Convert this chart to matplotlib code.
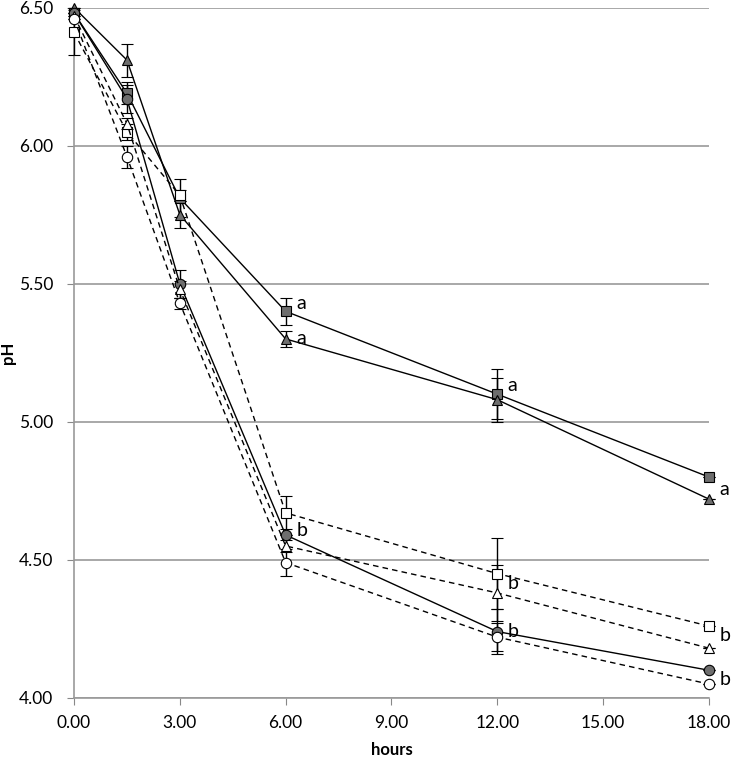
import numpy as np
import matplotlib.pyplot as plt

plt.rcParams['font.family'] = ['Lato', 'DejaVu Sans']

hours = [0, 1.5, 3, 6, 12, 18]

# pH series (filled = solid line, open = dashed line)
ph_sq_fill = [6.48, 6.19, 5.81, 5.40, 5.10, 4.80]
ph_tri_fill = [6.50, 6.31, 5.75, 5.30, 5.08, 4.72]
ph_circ_fill = [6.48, 6.17, 5.50, 4.59, 4.24, 4.10]
ph_sq_open = [6.41, 6.05, 5.82, 4.67, 4.45, 4.26]
ph_tri_open = [6.47, 6.08, 5.48, 4.55, 4.38, 4.18]
ph_circ_open = [6.46, 5.96, 5.43, 4.49, 4.22, 4.05]

# error bars (+/-)
err_sq_fill = [0.0, 0.04, 0.07, 0.05, 0.09, 0.0]
err_tri_fill = [0.0, 0.06, 0.05, 0.03, 0.08, 0.0]
err_circ_fill = [0.0, 0.05, 0.05, 0.0, 0.08, 0.0]
err_sq_open = [0.08, 0.03, 0.02, 0.06, 0.13, 0.0]
err_tri_open = [0.0, 0.02, 0.03, 0.02, 0.10, 0.0]
err_circ_open = [0.0, 0.04, 0.02, 0.05, 0.05, 0.0]

# significance letters: (series index, point index, letter)
letters = [(0, 3, 'a'), (1, 3, 'a'), (0, 4, 'a'), (1, 5, 'a'),
           (2, 3, 'b'), (3, 4, 'b'), (2, 4, 'b'), (3, 5, 'b'), (5, 5, 'b')]
# small vertical nudge of each letter (pH units)
letter_dy = [0.03, 0.0, 0.03, 0.035, 0.015, -0.035, 0.0, -0.035, 0.015]

gray = '#6e6e6e'
series = [
    (ph_sq_fill, err_sq_fill, 's', gray, '-'),
    (ph_tri_fill, err_tri_fill, '^', gray, '-'),
    (ph_circ_fill, err_circ_fill, 'o', gray, '-'),
    (ph_sq_open, err_sq_open, 's', 'white', (0, (4, 3))),
    (ph_tri_open, err_tri_open, '^', 'white', (0, (4, 3))),
    (ph_circ_open, err_circ_open, 'o', 'white', (0, (4, 3))),
]

fig = plt.figure(figsize=(7.33, 7.61), dpi=100)
ax = fig.add_axes([0.101, 0.083, 0.866, 0.907])

for vals, err, mk, fc, ls in series:
    ax.errorbar(hours, vals, yerr=err, color='black', lw=1.0, ls=ls,
                marker=mk, markersize=7.5, mfc=fc, mec='black', mew=0.8,
                capsize=4, elinewidth=1.0, capthick=1.0, clip_on=False, zorder=3)

for (si, pi, txt), dy in zip(letters, letter_dy):
    v = series[si][0]
    ax.text(hours[pi] + 0.3, v[pi] + dy, txt, fontsize=14, va='center', ha='left')

ax.set_xlim(0, 18)
ax.set_ylim(4.0, 6.5)
ax.set_xticks(np.arange(0, 19, 3))
ax.set_yticks(np.arange(4.0, 6.51, 0.5))
ax.set_xticklabels(['%.2f' % t for t in np.arange(0, 19, 3)])
ax.set_yticklabels(['%.2f' % t for t in np.arange(4.0, 6.51, 0.5)])
ax.tick_params(labelsize=12.5, color='#888888', length=5, direction='out')
ax.tick_params(axis='x', pad=7)
ax.tick_params(axis='y', pad=10)
ax.grid(axis='y', color='#999999', lw=1.2)
ax.set_axisbelow(True)
for s in ['top', 'right']:
    ax.spines[s].set_visible(False)
for s in ['left', 'bottom']:
    ax.spines[s].set_color('#999999')
    ax.spines[s].set_linewidth(1.2)

ax.set_xlabel('hours', fontsize=12, fontweight='bold', labelpad=8)
ax.set_ylabel('pH', fontsize=12, fontweight='bold', labelpad=2)

fig.savefig('out.png', dpi=100)
